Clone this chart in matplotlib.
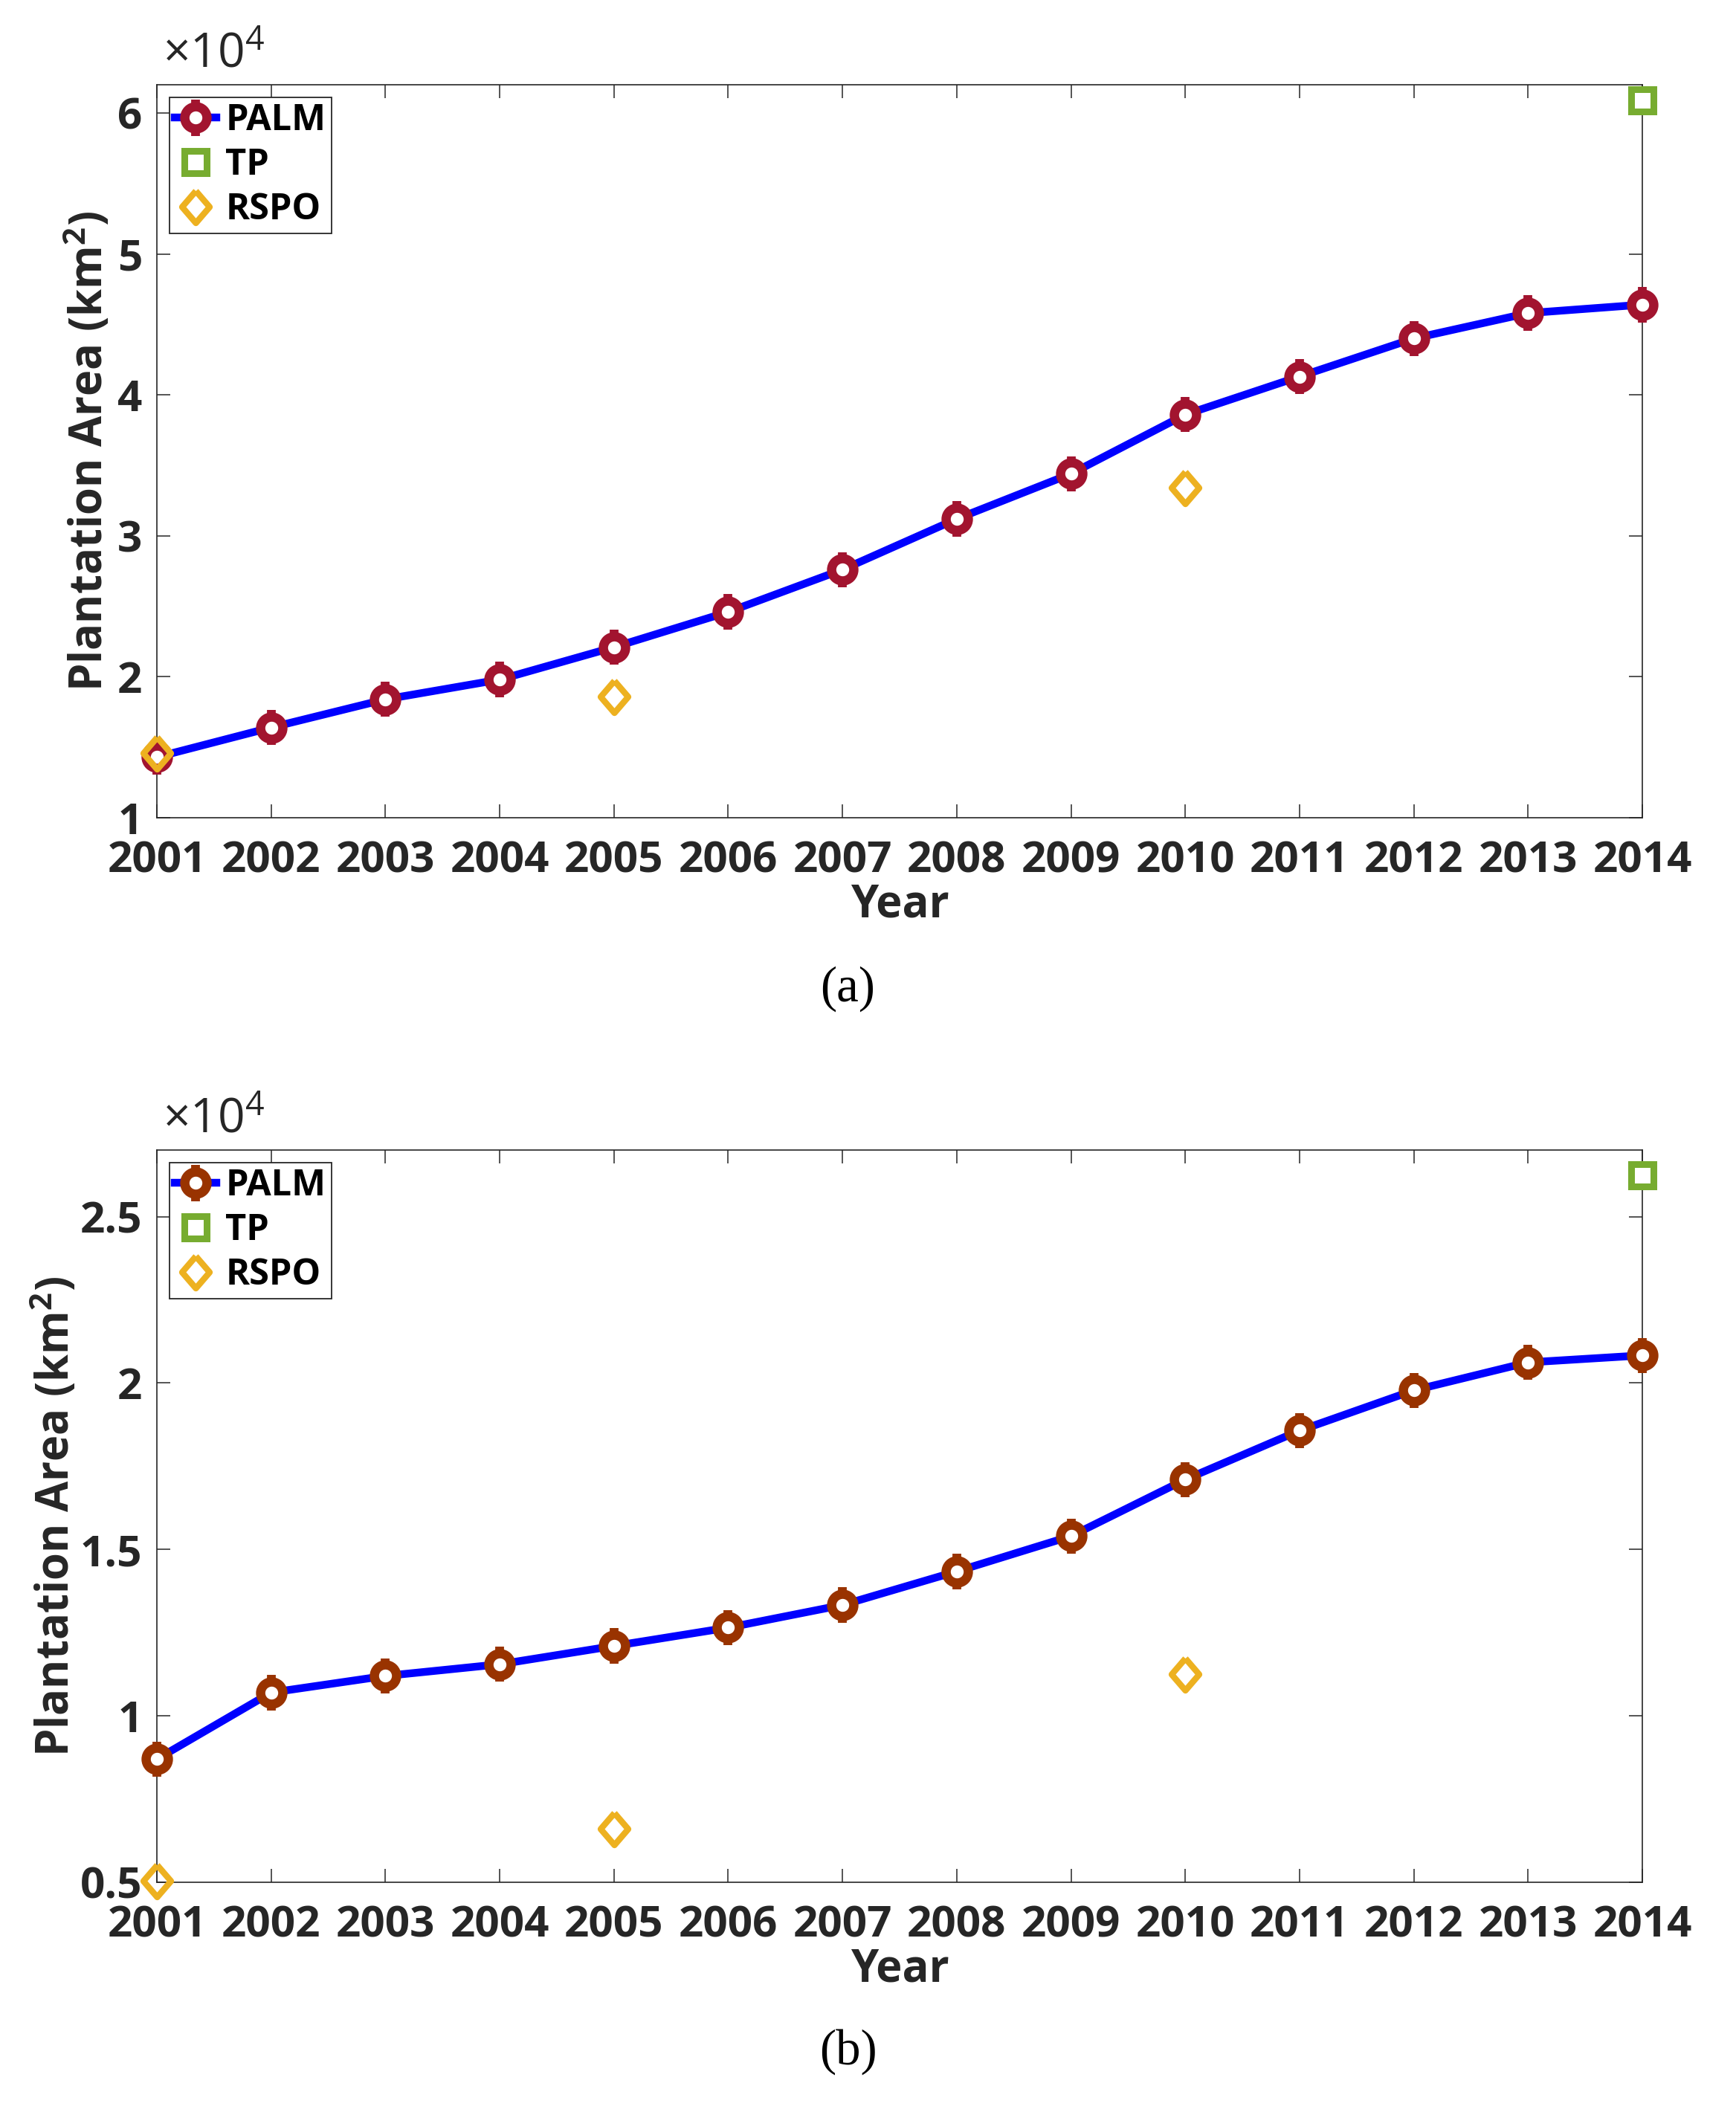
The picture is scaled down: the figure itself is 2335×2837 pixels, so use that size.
import matplotlib
matplotlib.use("Agg")
import matplotlib.pyplot as plt
from matplotlib.ticker import FuncFormatter, FixedLocator
import numpy as np

# ---------------- data ----------------
years = [2001, 2002, 2003, 2004, 2005, 2006, 2007, 2008, 2009, 2010, 2011, 2012, 2013, 2014]

palm_a = [14300, 16400, 18400, 19800, 22100, 24600, 27600, 31200, 34400, 38600, 41300, 44000, 45800, 46400]
palm_a_err = [1250] * 14
tp_years = [2014]
tp_a = [60900]
rspo_years = [2001, 2005, 2010]
rspo_a = [14600, 18600, 33400]

palm_b = [8700, 10700, 11200, 11550, 12100, 12650, 13330, 14340, 15400, 17100, 18570, 19780, 20620, 20830]
palm_b_err = [530] * 14
tp_b = [26250]
rspo_b = [5050, 6600, 11250]

yticks_a = [10000, 20000, 30000, 40000, 50000, 60000]
yticks_b = [5000, 10000, 15000, 20000, 25000]
ylim_a = (10000, 62000)
ylim_b = (5000, 27000)

# ---------------- style ----------------
plt.rcParams['font.family'] = ['Open Sans', 'DejaVu Sans']
plt.rcParams['mathtext.fontset'] = 'custom'
plt.rcParams['mathtext.rm'] = 'Open Sans'
plt.rcParams['mathtext.bf'] = 'Open Sans:bold'
plt.rcParams['mathtext.it'] = 'Open Sans:italic'

BLUE = '#0000FF'
GREEN = '#77AC30'
YELLOW = '#EDB120'
TXT = '#262626'
TICK_FS = 42
LEG_FS = 35

fig = plt.figure(figsize=(23.35, 28.37), dpi=100)

W, H = 2335.0, 2837.0
def axes_rect(left, right, top, bottom):
    return [left / W, 1 - bottom / H, (right - left) / W, (bottom - top) / H]

ax_a = fig.add_axes(axes_rect(211, 2209, 114, 1100))
ax_b = fig.add_axes(axes_rect(211, 2209, 1547, 2532))

def draw(ax, palm, err, tp, rspo, palm_color, yticks, ylim, ylabelpad):
    h_palm = ax.errorbar(years, palm, yerr=err, color=BLUE, lw=7.5, marker='o', ms=21.5, mew=9,
                         mec=palm_color, mfc='white', ecolor=palm_color, elinewidth=8.5,
                         capsize=0, label='PALM', clip_on=False, zorder=3)
    h_tp, = ax.plot(tp_years, tp, linestyle='none', marker='s', ms=22, mew=6.5, mec=GREEN,
                    mfc='white', label='TP', clip_on=False, zorder=4)
    h_rspo, = ax.plot(rspo_years, rspo, linestyle='none',
                      marker=[(0, 1), (0.86, 0), (0, -1), (-0.86, 0), (0, 1)],
                      ms=31, mew=6, mec=YELLOW, mfc='none', label='RSPO', clip_on=False, zorder=5)

    ax.set_xlim(2001, 2014)
    ax.set_ylim(*ylim)
    ax.xaxis.set_major_locator(FixedLocator(years))
    ax.yaxis.set_major_locator(FixedLocator(yticks))
    ax.yaxis.set_major_formatter(FuncFormatter(lambda v, p: f"{v / 1e4:g}"))
    ax.tick_params(direction='in', length=13, width=1.1, color=TXT, top=True, right=True,
                   labelsize=TICK_FS, labelcolor=TXT)
    ax.tick_params(axis='x', pad=21)
    ax.tick_params(axis='y', pad=14)
    for lab in ax.get_xticklabels() + ax.get_yticklabels():
        lab.set_fontweight('bold')
    for sp in ax.spines.values():
        sp.set_color(TXT)
        sp.set_linewidth(1.2)

    ax.set_xlabel('Year', fontsize=43, fontweight='bold', color=TXT, labelpad=0)
    ax.set_ylabel(r'Plantation Area (km$^{\mathbf{2}}$)', fontsize=43, fontweight='bold',
                  color=TXT, labelpad=ylabelpad)

    ax.text(0.004, 1.008, r'$\times10^{4}$', transform=ax.transAxes, ha='left', va='bottom',
            fontsize=46, color=TXT)

    leg = ax.legend([h_palm, h_tp, h_rspo], ['PALM', 'TP', 'RSPO'],
                    loc='upper left', fontsize=LEG_FS, numpoints=1, fancybox=False,
                    edgecolor=TXT, framealpha=1, borderaxespad=0.35, handlelength=1.15,
                    handletextpad=0.25, labelspacing=0.22, borderpad=0.15)
    leg.get_frame().set_linewidth(1.3)
    for t in leg.get_texts():
        t.set_fontweight('bold')
        t.set_color('black')

draw(ax_a, palm_a, palm_a_err, tp_a, rspo_a, '#A2142F', yticks_a, ylim_a, 4)
draw(ax_b, palm_b, palm_b_err, tp_b, rspo_b, '#993300', yticks_b, ylim_b, 0)

fig.text(1140 / W, 1 - 1330 / H, '(a)', ha='center', va='center', fontsize=48,
         family='Liberation Serif', color='black')
fig.text(1141 / W, 1 - 2760 / H, '(b)', ha='center', va='center', fontsize=48,
         family='Liberation Serif', color='black')

fig.savefig('out.png', dpi=100, facecolor='white')
